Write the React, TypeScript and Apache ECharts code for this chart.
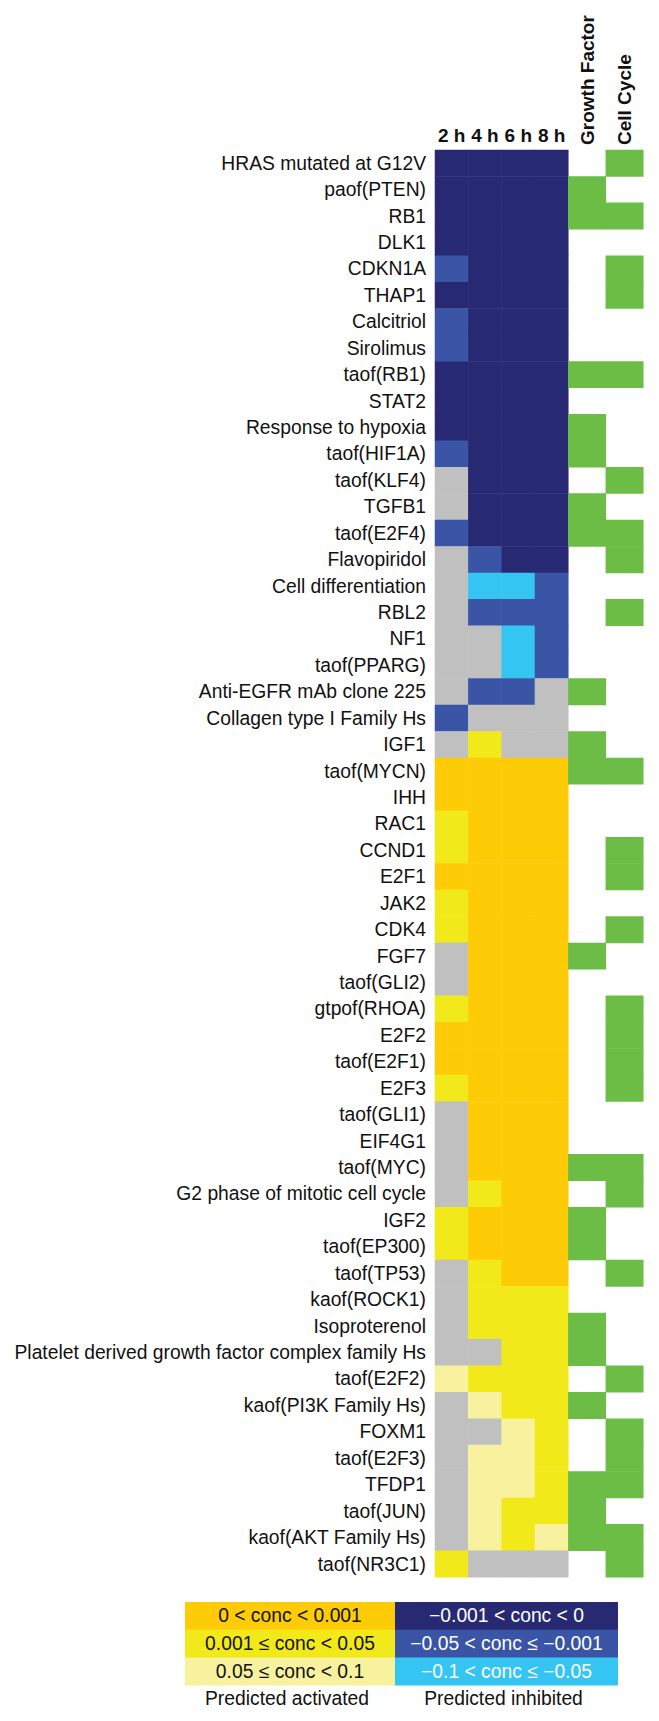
import React, { useEffect, useRef } from "react";
import * as echarts from "echarts";

const rowLabels = [
  "HRAS mutated at G12V", "paof(PTEN)", "RB1", "DLK1", "CDKN1A", "THAP1", "Calcitriol", "Sirolimus",
  "taof(RB1)", "STAT2", "Response to hypoxia", "taof(HIF1A)", "taof(KLF4)", "TGFB1", "taof(E2F4)",
  "Flavopiridol", "Cell differentiation", "RBL2", "NF1", "taof(PPARG)", "Anti-EGFR mAb clone 225",
  "Collagen type I Family Hs", "IGF1", "taof(MYCN)", "IHH", "RAC1", "CCND1", "E2F1", "JAK2", "CDK4",
  "FGF7", "taof(GLI2)", "gtpof(RHOA)", "E2F2", "taof(E2F1)", "E2F3", "taof(GLI1)", "EIF4G1", "taof(MYC)",
  "G2 phase of mitotic cell cycle", "IGF2", "taof(EP300)", "taof(TP53)", "kaof(ROCK1)", "Isoproterenol",
  "Platelet derived growth factor complex family Hs", "taof(E2F2)", "kaof(PI3K Family Hs)", "FOXM1",
  "taof(E2F3)", "TFDP1", "taof(JUN)", "kaof(AKT Family Hs)", "taof(NR3C1)",
];

const timeLabels = ["2 h", "4 h", "6 h", "8 h"];
const annotationLabels = ["Growth Factor", "Cell Cycle"];

// concentration class codes:
// -3: -0.001 < conc < 0, -2: -0.05 < conc <= -0.001, -1: -0.1 < conc <= -0.05,
//  0: not significant, 1: 0.05 <= conc < 0.1, 2: 0.001 <= conc < 0.05, 3: 0 < conc < 0.001
const conc2h = [
  -3, -3, -3, -3, -2, -3, -2, -2, -3, -3,
  -3, -2, 0, 0, -2, 0, 0, 0, 0, 0,
  0, -2, 0, 3, 3, 2, 2, 3, 2, 2,
  0, 0, 2, 3, 3, 2, 0, 0, 0, 0,
  2, 2, 0, 0, 0, 0, 1, 0, 0, 0,
  0, 0, 0, 2,
];
const conc4h = [
  -3, -3, -3, -3, -3, -3, -3, -3, -3, -3,
  -3, -3, -3, -3, -3, -2, -1, -2, 0, 0,
  -2, 0, 2, 3, 3, 3, 3, 3, 3, 3,
  3, 3, 3, 3, 3, 3, 3, 3, 3, 2,
  3, 3, 2, 2, 2, 0, 2, 1, 0, 1,
  1, 1, 1, 0,
];
const conc6h = [
  -3, -3, -3, -3, -3, -3, -3, -3, -3, -3,
  -3, -3, -3, -3, -3, -3, -1, -2, -1, -1,
  -2, 0, 0, 3, 3, 3, 3, 3, 3, 3,
  3, 3, 3, 3, 3, 3, 3, 3, 3, 3,
  3, 3, 3, 2, 2, 2, 2, 2, 1, 1,
  1, 2, 2, 0,
];
const conc8h = [
  -3, -3, -3, -3, -3, -3, -3, -3, -3, -3,
  -3, -3, -3, -3, -3, -3, -2, -2, -2, -2,
  0, 0, 0, 3, 3, 3, 3, 3, 3, 3,
  3, 3, 3, 3, 3, 3, 3, 3, 3, 3,
  3, 3, 3, 2, 2, 2, 2, 2, 2, 2,
  2, 2, 1, 0,
];
const growthFactor = [
  0, 1, 1, 0, 0, 0, 0, 0, 1, 0,
  1, 1, 0, 1, 1, 0, 0, 0, 0, 0,
  1, 0, 1, 1, 0, 0, 0, 0, 0, 0,
  1, 0, 0, 0, 0, 0, 0, 0, 1, 0,
  1, 1, 0, 0, 1, 1, 0, 1, 0, 0,
  1, 1, 1, 0,
];
const cellCycle = [
  1, 0, 1, 0, 1, 1, 0, 0, 1, 0,
  0, 0, 1, 0, 1, 1, 0, 1, 0, 0,
  0, 0, 0, 1, 0, 0, 1, 1, 0, 1,
  0, 0, 1, 1, 1, 1, 0, 0, 1, 1,
  0, 0, 1, 0, 0, 0, 1, 0, 1, 1,
  1, 0, 1, 1,
];

const classCodes = [3, 2, 1, -3, -2, -1, 0];
const classColors = ["#fecc06", "#f2e91a", "#f8f19d", "#272a73", "#3a55a5", "#35c5f2", "#c0c0c0"];
const activatedLegend = ["0 < conc < 0.001", "0.001 \u2264 conc < 0.05", "0.05 \u2264 conc < 0.1"];
const inhibitedLegend = ["\u22120.001 < conc < 0", "\u22120.05 < conc \u2264 \u22120.001", "\u22120.1 < conc \u2264 \u22120.05"];
const legendTitles = ["Predicted activated", "Predicted inhibited"];

const FONT = "'Liberation Sans', Arial, sans-serif";

export default function App() {
  const ref = useRef<HTMLDivElement>(null);
  useEffect(() => {
    document.body.style.margin = "0";
    const chart = echarts.init(ref.current!, undefined, { renderer: "svg" });
    const timeCols = [conc2h, conc4h, conc6h, conc8h];
    const heatData: number[][] = [];
    timeCols.forEach((col, x) => col.forEach((v, y) => heatData.push([x, y, v])));
    const annData: number[][] = [];
    [growthFactor, cellCycle].forEach((col, x) => col.forEach((v, y) => annData.push([x, y, v])));

    const top = 150;
    const rowH = 26.43;
    const gridH = rowH * rowLabels.length;

    const legendLeft = 185;
    const legendMid = 395;
    const legendRight = 618;
    const legendTop = 1602;
    const legendRowH = 27.7;
    const graphics: any[] = [];
    activatedLegend.forEach((t, i) => {
      graphics.push({
        type: "rect",
        shape: { x: legendLeft, y: legendTop + i * legendRowH, width: legendMid - legendLeft, height: legendRowH + 0.5 },
        style: { fill: classColors[i] },
      });
      graphics.push({
        type: "text",
        x: (legendLeft + legendMid) / 2,
        y: legendTop + i * legendRowH + legendRowH / 2,
        style: { text: t, fill: "#111", font: `19.3px ${FONT}`, textAlign: "center", textVerticalAlign: "middle" },
      });
    });
    inhibitedLegend.forEach((t, i) => {
      graphics.push({
        type: "rect",
        shape: { x: legendMid, y: legendTop + i * legendRowH, width: legendRight - legendMid, height: legendRowH + 0.5 },
        style: { fill: classColors[3 + i] },
      });
      graphics.push({
        type: "text",
        x: (legendMid + legendRight) / 2,
        y: legendTop + i * legendRowH + legendRowH / 2,
        style: { text: t, fill: "#ffffff", font: `19.3px ${FONT}`, textAlign: "center", textVerticalAlign: "middle" },
      });
    });
    graphics.push({
      type: "text",
      x: (legendLeft + legendMid) / 2 - 3,
      y: legendTop + 3 * legendRowH + 13,
      style: { text: legendTitles[0], fill: "#111", font: `19.3px ${FONT}`, textAlign: "center", textVerticalAlign: "middle" },
    });
    graphics.push({
      type: "text",
      x: (legendMid + legendRight) / 2 - 3,
      y: legendTop + 3 * legendRowH + 13,
      style: { text: legendTitles[1], fill: "#111", font: `19.3px ${FONT}`, textAlign: "center", textVerticalAlign: "middle" },
    });

    chart.setOption({
      animation: false,
      backgroundColor: "#ffffff",
      textStyle: { fontFamily: FONT },
      grid: [
        { left: 435, top, width: 133.3, height: gridH },
        { left: 568.3, top, width: 75, height: gridH },
      ],
      xAxis: [
        {
          type: "category", gridIndex: 0, data: timeLabels, position: "top",
          axisLine: { show: false }, axisTick: { show: false }, splitLine: { show: false },
          axisLabel: { fontSize: 19, fontWeight: "bold", color: "#111", margin: 5, interval: 0, fontFamily: FONT },
        },
        {
          type: "category", gridIndex: 1, data: annotationLabels, position: "top",
          axisLine: { show: false }, axisTick: { show: false }, splitLine: { show: false },
          axisLabel: { fontSize: 19, fontWeight: "bold", color: "#111", margin: 5, rotate: -90, interval: 0, fontFamily: FONT },
        },
      ],
      yAxis: [
        {
          type: "category", gridIndex: 0, data: rowLabels, inverse: true,
          axisLine: { show: false }, axisTick: { show: false }, splitLine: { show: false },
          axisLabel: { fontSize: 19.3, color: "#111", margin: 9, interval: 0, fontFamily: FONT },
        },
        {
          type: "category", gridIndex: 1, data: rowLabels, inverse: true,
          axisLine: { show: false }, axisTick: { show: false }, splitLine: { show: false },
          axisLabel: { show: false },
        },
      ],
      visualMap: [
        {
          type: "piecewise", show: false, seriesIndex: 0, dimension: 2,
          pieces: classCodes.map((c, i) => ({ value: c, color: classColors[i] })),
        },
        {
          type: "piecewise", show: false, seriesIndex: 1, dimension: 2,
          pieces: [
            { value: 0, color: "rgba(255,255,255,0)" },
            { value: 1, color: "#6cbd45" },
          ],
        },
      ],
      series: [
        { type: "heatmap", xAxisIndex: 0, yAxisIndex: 0, data: heatData, silent: true },
        { type: "heatmap", xAxisIndex: 1, yAxisIndex: 1, data: annData, silent: true },
      ],
      graphic: graphics,
    });
    return () => chart.dispose();
  }, []);
  return <div ref={ref} style={{ width: 659, height: 1721 }} />;
}
